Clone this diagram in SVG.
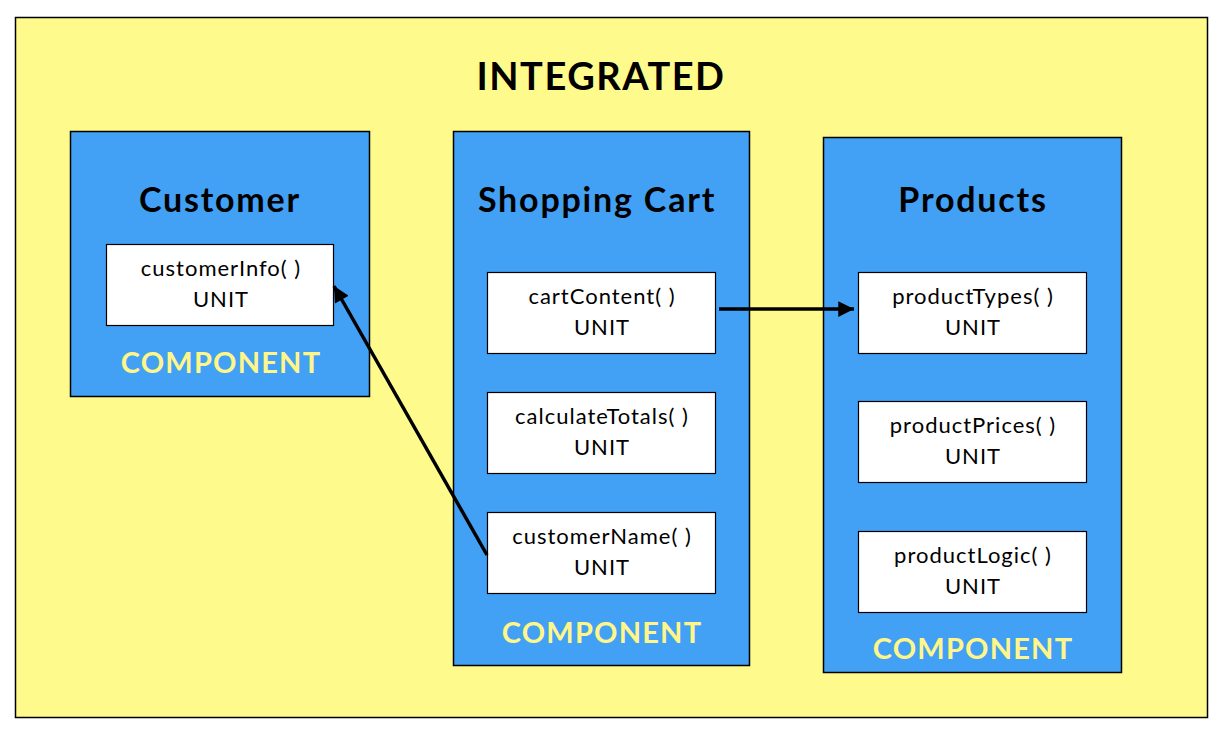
<svg xmlns="http://www.w3.org/2000/svg" width="1222" height="738" viewBox="0 0 1222 738">
<style>
.bg{fill:#FFFA8C;stroke:#000;stroke-width:1.5}
.comp{fill:#42A0F5;stroke:#000;stroke-width:1.5}
.unit{fill:#fff;stroke:#000;stroke-width:1.2}
.title{font-family:Lato,"Open Sans",sans-serif;font-weight:bold;font-size:38px;letter-spacing:1.5px;fill:#000;text-anchor:middle}
.ctitle{font-family:Lato,"Open Sans",sans-serif;font-weight:bold;font-size:34px;letter-spacing:1.8px;fill:#000;text-anchor:middle}
.ut{font-family:Lato,"Open Sans",sans-serif;font-size:22px;letter-spacing:1px;fill:#000;text-anchor:middle}
.cl{font-family:Lato,"Open Sans",sans-serif;font-weight:bold;font-size:29px;letter-spacing:1.2px;fill:#FFF68A;text-anchor:middle}
.conn{stroke:#000;stroke-width:3.5;fill:none}
</style>
<defs>
<marker id="ah" viewBox="0 0 10 10" refX="10" refY="5" markerWidth="5" markerHeight="4.5" orient="auto" markerUnits="strokeWidth">
<path d="M0,0 L10,5 L0,10 z" fill="#000"/>
</marker>
</defs>
<rect class="bg" x="15.5" y="17.5" width="1192" height="700"/>
<text class="title" x="601" y="90">INTEGRATED</text>
<g id="customer">
<rect class="comp" x="70.5" y="131.5" width="299" height="265"/>
<text class="ctitle" x="220" y="212">Customer</text>
<g id="customerInfo">
<rect class="unit" x="106.5" y="244.5" width="227" height="81"/>
<text class="ut" x="221" y="276">customerInfo( )</text>
<text class="ut" x="221" y="307">UNIT</text>
</g>
<text class="cl" x="221" y="373">COMPONENT</text>
</g>
<g id="shoppingCart">
<rect class="comp" x="453.5" y="131.5" width="296" height="534"/>
<text class="ctitle" x="597" y="212">Shopping Cart</text>
<g id="cartContent">
<rect class="unit" x="487.5" y="272.5" width="228" height="81"/>
<text class="ut" x="602" y="304">cartContent( )</text>
<text class="ut" x="602" y="335">UNIT</text>
</g>
<g id="calculateTotals">
<rect class="unit" x="487.5" y="392.5" width="228" height="81"/>
<text class="ut" x="602" y="424">calculateTotals( )</text>
<text class="ut" x="602" y="455">UNIT</text>
</g>
<g id="customerName">
<rect class="unit" x="487.5" y="512.5" width="228" height="81"/>
<text class="ut" x="602" y="544">customerName( )</text>
<text class="ut" x="602" y="575">UNIT</text>
</g>
<text class="cl" x="602" y="643">COMPONENT</text>
</g>
<g id="products">
<rect class="comp" x="823.5" y="137.5" width="298" height="535"/>
<text class="ctitle" x="973" y="212">Products</text>
<g id="productTypes">
<rect class="unit" x="858.5" y="272.5" width="228" height="81"/>
<text class="ut" x="973" y="304">productTypes( )</text>
<text class="ut" x="973" y="335">UNIT</text>
</g>
<g id="productPrices">
<rect class="unit" x="858.5" y="401.5" width="228" height="81"/>
<text class="ut" x="973" y="433">productPrices( )</text>
<text class="ut" x="973" y="464">UNIT</text>
</g>
<g id="productLogic">
<rect class="unit" x="858.5" y="531.5" width="228" height="81"/>
<text class="ut" x="973" y="563">productLogic( )</text>
<text class="ut" x="973" y="594">UNIT</text>
</g>
<text class="cl" x="973" y="659">COMPONENT</text>
</g>
<g id="connectors">
<line class="conn" x1="487" y1="555" x2="334" y2="286" marker-end="url(#ah)"/>
<line class="conn" x1="719" y1="309" x2="854" y2="309" marker-end="url(#ah)"/>
</g>
</svg>
